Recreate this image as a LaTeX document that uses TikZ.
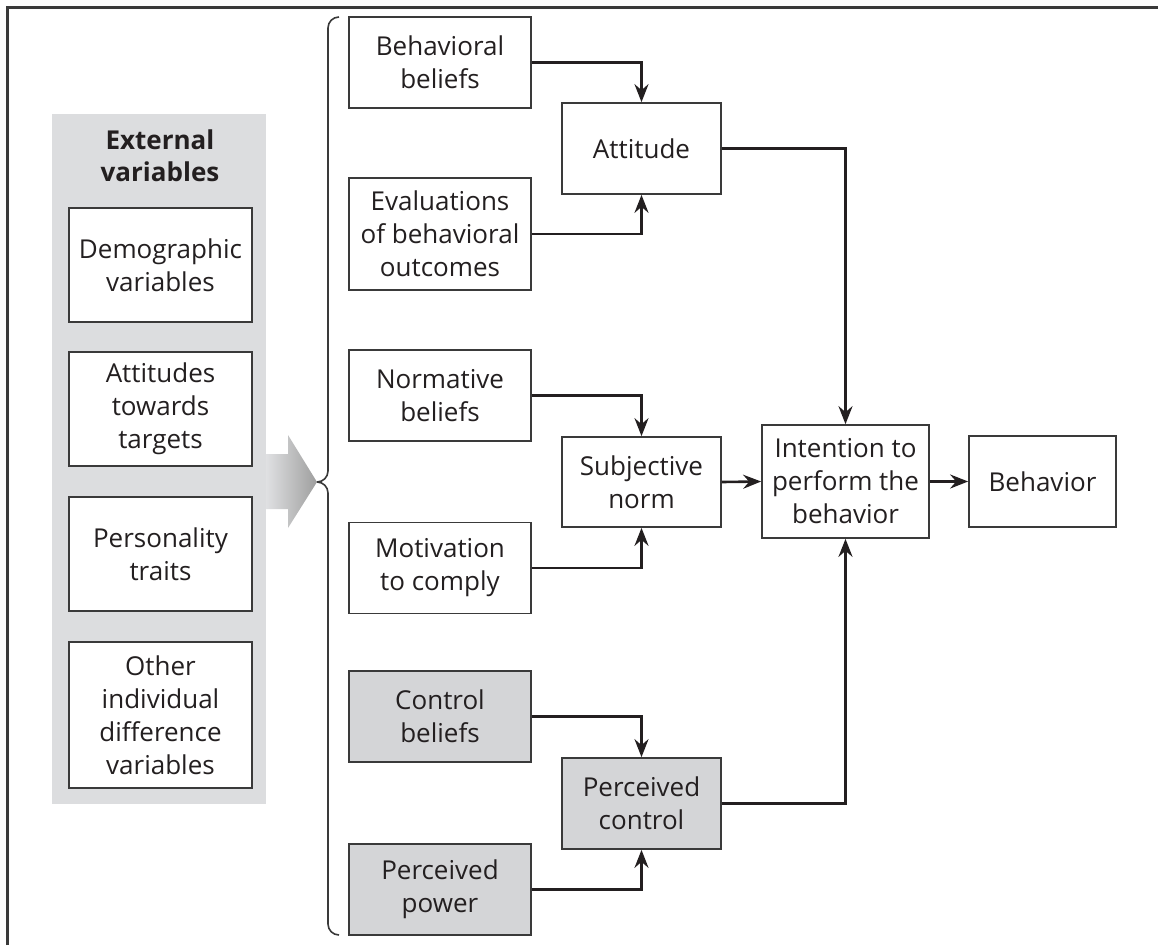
\documentclass[tikz,border=0pt]{standalone}
\usepackage{fontspec}
\setmainfont{Open Sans}
\usetikzlibrary{arrows.meta}
\definecolor{ink}{HTML}{231F20}
\definecolor{frame}{HTML}{3A3A3A}
\definecolor{panelgray}{HTML}{DCDDDF}
\definecolor{boxgray}{HTML}{D4D5D7}

\begin{document}
\begin{tikzpicture}[x=1pt,y=-1pt,
  box/.style={draw=frame, line width=1.7pt, fill=white, rectangle, inner sep=0pt,
    align=center, text=ink, font=\fontsize{26}{33}\selectfont},
  graybox/.style={box, fill=boxgray},
  extbox/.style={box, minimum width=183pt},
  midbox/.style={box, minimum width=182pt, minimum height=91pt},
  midgray/.style={midbox, fill=boxgray},
  link/.style={draw=ink, line width=2.6pt, -{Stealth[length=18pt,width=14pt,inset=6pt]}},
]
\useasboundingbox (0,0) rectangle (1158,945);

% outer frame (top and left edges)
\draw[frame, line width=3pt] (7,945) -- (7,7) -- (1158,7);

% external variables panel
\fill[panelgray] (52,114) rectangle (266,804);
\node[text=ink, align=center, font=\bfseries\fontsize{26}{32}\selectfont] (ext) at (160,156) {External\\variables};
\node[extbox, minimum height=114pt] (demo) at (160.5,265) {Demographic\\variables};
\node[extbox, minimum height=114pt] (targ) at (160.5,409) {Attitudes\\towards\\targets};
\node[extbox, minimum height=114pt] (pers) at (160.5,554) {Personality\\traits};
\node[extbox, minimum height=146pt] (other) at (160.5,715) {Other\\individual\\difference\\variables};

% broad shaded arrow
\shade[left color=panelgray!90!white, right color=black!38]
  (266,454) -- (288,454) -- (288,435) -- (317,482) -- (288,528) -- (288,509) -- (266,509) -- cycle;

% curly brace
\draw[frame, line width=1.6pt, rounded corners=11pt]
  (339,17) -- (328,17) -- (328,482) -- (317,482);
\draw[frame, line width=1.6pt, rounded corners=11pt]
  (317,482) -- (328,482) -- (328,935) -- (339,935);

% belief boxes
\node[midbox] (bb) at (440,62.5) {Behavioral\\beliefs};
\node[midbox, minimum height=112pt] (ev) at (440,234) {Evaluations\\of behavioral\\outcomes};
\node[midbox] (nb) at (440,395.5) {Normative\\beliefs};
\node[midbox] (mc) at (440,568) {Motivation\\to comply};
\node[midgray] (cb) at (440,716.5) {Control\\beliefs};
\node[midgray] (pp) at (440,889.5) {Perceived\\power};

% determinants
\node[box, minimum width=159pt, minimum height=91pt] (att) at (641.5,148.5) {Attitude};
\node[box, minimum width=159pt, minimum height=90pt] (sn) at (641.5,482) {Subjective\\norm};
\node[graybox, minimum width=159pt, minimum height=91pt] (pc) at (641.5,803.5) {Perceived\\control};

% intention and behavior
\node[box, minimum width=167pt, minimum height=113pt] (int) at (845.5,481.5) {Intention to\\perform the\\behavior};
\node[box, minimum width=147pt, minimum height=91pt] (beh) at (1042.5,481.5) {Behavior};

% connectors
\draw[link] (bb.east) -| (att.north);
\draw[link] (ev.east) -| (att.south);
\draw[link] (nb.east) -| (sn.north);
\draw[link] (mc.east) -| (sn.south);
\draw[link] (cb.east) -| (pc.north);
\draw[link] (pp.east) -| (pc.south);
\draw[link] (att.east) -| (int.north);
\draw[link] (sn.east) -- (int.west);
\draw[link] (pc.east) -| (int.south);
\draw[link] (int.east) -- (beh.west);
\end{tikzpicture}
\end{document}
